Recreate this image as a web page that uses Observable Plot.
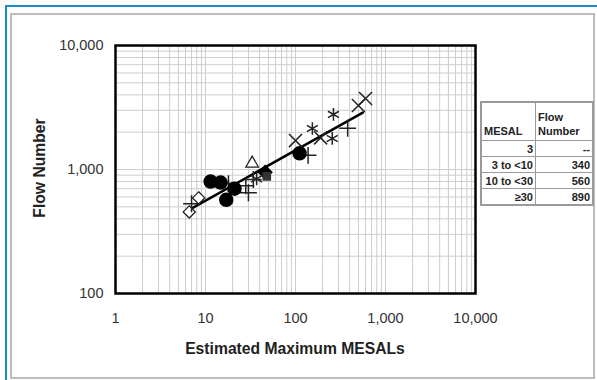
<!DOCTYPE html>
<html><head><meta charset="utf-8">
<script src="https://cdn.jsdelivr.net/npm/d3@7"></script>
<script src="https://cdn.jsdelivr.net/npm/@observablehq/plot@0.6"></script>
<style>
body{margin:0;background:#fff;font-family:Arial,"Liberation Sans",sans-serif;}
#wrap{position:relative;width:597px;height:380px;overflow:hidden;background:#fff;}
.blue{position:absolute;left:5px;top:5px;width:600px;height:400px;border-top:2px solid #1a8cc4;border-left:2px solid #1a8cc4;}
.gray{position:absolute;left:10px;top:13px;width:581px;height:362px;border:2px solid #bdbdbd;}
#chart{position:absolute;left:0;top:0;}
.ylab{position:absolute;left:40px;top:168px;transform:translate(-50%,-50%) rotate(-90deg);font-weight:bold;font-size:15.7px;color:#222;white-space:nowrap;}
.xlab{position:absolute;left:295px;top:349px;transform:translate(-50%,-50%);font-weight:bold;font-size:15.7px;color:#222;white-space:nowrap;}
#tbl{position:absolute;left:480px;top:101px;border-collapse:collapse;border:2px solid #9a9a9a;font-size:11px;font-weight:bold;color:#222;table-layout:fixed;}
#tbl td{border:1px solid #9a9a9a;padding:0 2px;height:15px;text-align:right;white-space:nowrap;}
#tbl td.c1{width:49px;}
#tbl td.c2{width:52px;}
#tbl tr.h td{height:35px;text-align:left;vertical-align:bottom;line-height:14px;padding-bottom:2px;}
</style></head><body>
<div id="wrap">
 <div class="blue"></div>
 <div class="gray"></div>
 <div id="chart"></div>
 <div class="ylab">Flow Number</div>
 <div class="xlab">Estimated Maximum MESALs</div>
 <table id="tbl"></table>
</div>
<script>
// tick labels
const xTicks = [1, 10, 100, 1000, 10000];
const yTicks = [100, 1000, 10000];

// series
const openDiamondX = [6.6, 8.4];
const openDiamondY = [455, 590];
const plusX = [7.0, 18, 28, 30, 34, 138, 380];
const plusY = [530, 770, 740, 650, 830, 1300, 2150];
const filledCircleX = [11.4, 14.7, 17, 21, 111];
const filledCircleY = [800, 785, 570, 700, 1350];
const openTriangleX = [33];
const openTriangleY = [1120];
const filledDiamondX = [46];
const filledDiamondY = [950];
const filledSquareX = [48];
const filledSquareY = [880];
const asteriskX = [37, 154, 264, 256];
const asteriskY = [840, 2140, 2780, 1780];
const timesX = [100, 190, 500, 600];
const timesY = [1710, 1800, 3280, 3740];
const fitX = [6.5, 560];
const fitY = [470, 2880];

// table
const tableHeader = ["MESAL", "Flow Number"];
const mesalRanges = ["3", "3 to <10", "10 to <30", "≥30"];
const flowNumbers = ["--", "340", "560", "890"];

const pts = (xs, ys) => xs.map((x, i) => ({x, y: ys[i]}));
const minorX = d3.range(0, 4).flatMap(e => d3.range(1, 10).map(k => k * 10 ** e)).concat([10000]);
const minorY = d3.range(2, 4).flatMap(e => d3.range(1, 10).map(k => k * 10 ** e)).concat([10000]);

const chart = Plot.plot({
  width: 597, height: 380,
  marginLeft: 115, marginRight: 122, marginTop: 45, marginBottom: 87,
  style: {background: "transparent", fontFamily: "Arial, 'Liberation Sans', sans-serif", color: "#333"},
  x: {type: "log", domain: [1, 10000], axis: null},
  y: {type: "log", domain: [100, 10000], axis: null},
  marks: [
    Plot.gridX(minorX, {stroke: "#cdcdcd", strokeOpacity: 1, strokeWidth: 1}),
    Plot.gridY(minorY, {stroke: "#cdcdcd", strokeOpacity: 1, strokeWidth: 1}),
    Plot.axisX(xTicks, {label: null, tickSize: 0, tickPadding: 19, tickFormat: d3.format(","), fontSize: 14.5, fill: "#333"}),
    Plot.axisY(yTicks, {label: null, tickSize: 0, tickPadding: 12, tickFormat: d3.format(","), fontSize: 14.5, fill: "#333"}),
    Plot.line(pts(fitX, fitY), {x: "x", y: "y", stroke: "black", strokeWidth: 2.5}),
    Plot.dot(pts(openDiamondX, openDiamondY), {x: "x", y: "y", symbol: "diamond2", r: 5.5, stroke: "#222", fill: "white", strokeWidth: 1.3}),
    Plot.dot(pts(plusX, plusY), {x: "x", y: "y", symbol: "plus", r: 5.5, stroke: "#222", strokeWidth: 1.5}),
    Plot.dot(pts(filledCircleX, filledCircleY), {x: "x", y: "y", symbol: "circle", r: 6.5, fill: "black", stroke: "black"}),
    Plot.dot(pts(openTriangleX, openTriangleY), {x: "x", y: "y", symbol: "triangle2", r: 6, stroke: "#222", fill: "white", strokeWidth: 1.3}),
    Plot.dot(pts(filledDiamondX, filledDiamondY), {x: "x", y: "y", symbol: "diamond2", r: 6, fill: "black", stroke: "black"}),
    Plot.dot(pts(filledSquareX, filledSquareY), {x: "x", y: "y", symbol: "square2", r: 4.5, fill: "#333", stroke: "#333"}),
    Plot.dot(pts(asteriskX, asteriskY), {x: "x", y: "y", symbol: "asterisk", r: 6, stroke: "#222", strokeWidth: 1.5}),
    Plot.dot(pts(timesX, timesY), {x: "x", y: "y", symbol: "times", r: 6, stroke: "#222", strokeWidth: 1.5}),
    Plot.frame({stroke: "black", strokeWidth: 2.5})
  ]
});
document.getElementById("chart").appendChild(chart);

const tbl = document.getElementById("tbl");
let html = `<tr class="h"><td class="c1">${tableHeader[0]}</td><td class="c2">Flow<br>Number</td></tr>`;
mesalRanges.forEach((m, i) => {
  html += `<tr><td class="c1">${m.replace("<", "&lt;")}</td><td class="c2">${flowNumbers[i]}</td></tr>`;
});
tbl.innerHTML = html;
</script>
</body></html>
